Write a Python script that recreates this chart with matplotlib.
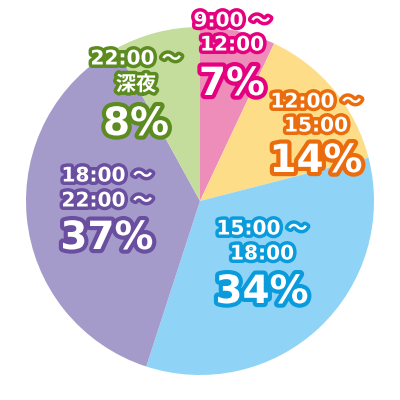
import matplotlib.pyplot as plt
import matplotlib.patheffects as pe

# time-of-day share, clockwise from 12 o'clock
slots = ['9:00～\n12:00', '12:00～\n15:00', '15:00～\n18:00', '18:00～\n22:00～', '22:00～\n深夜']
shares = [7, 14, 34, 37, 8]
fill_colors = ['#EE8DB9', '#FDDD88', '#8FD4F6', '#A59BCB', '#C4DD9C']
edge_colors = ['#E4007F', '#EA6C0C', '#0A9BDD', '#6A4EA0', '#5C8B20']

# label anchor (pixel coords, y from top): x, y of line1, line2, percentage
label_pos = [
    (232, 21, 45, 84),
    (316, 102, 126, 161),
    (262, 229, 254, 292),
    (107, 176, 201, 238),
    (136, 59, 85, 124),
]

plt.rcParams['font.family'] = ['DejaVu Sans', 'Noto Sans CJK JP']

fig = plt.figure(figsize=(4, 4), dpi=100)
ax = fig.add_axes([0, 0, 1, 1])

ax.pie(shares, colors=fill_colors, startangle=90, counterclock=False,
       center=(200, 199), radius=174, frame=True,
       wedgeprops={'linewidth': 0})
ax.set_xlim(0, 400)
ax.set_ylim(0, 400)
ax.set_aspect('equal')
ax.axis('off')

for text, pct, col, (x, y1, y2, y3) in zip(slots, shares, edge_colors, label_pos):
    line1, line2 = text.split('\n')
    small = [pe.withStroke(linewidth=5, foreground=col)]
    big = [pe.withStroke(linewidth=6, foreground=col)]
    ax.text(x, 400 - y1, line1.replace('～', ' ～'), ha='center', va='center',
            fontsize=14.5, fontweight='bold', color='white', path_effects=small)
    ax.text(x, 400 - y2, line2.replace('～', ' ～'), ha='center', va='center',
            fontsize=14.5, fontweight='bold', color='white', path_effects=small)
    ax.text(x, 400 - y3, f'{pct}%', ha='center', va='center', fontsize=28,
            fontweight='bold', color='white', path_effects=big)

fig.savefig('out.png', dpi=100)
